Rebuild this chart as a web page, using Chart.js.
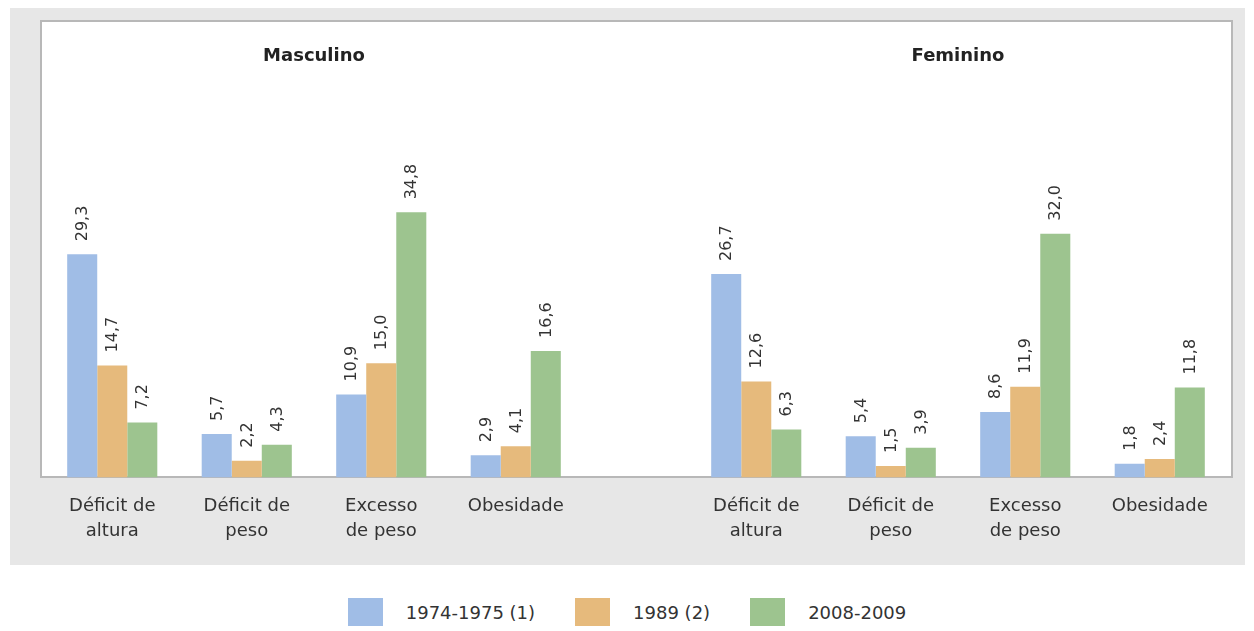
<!DOCTYPE html>
<html>
<head>
<meta charset="utf-8">
<script src="https://cdn.jsdelivr.net/npm/chart.js@4"></script>
<style>
    body { margin: 0; background: #fff; font-family: "DejaVu Sans", sans-serif; }
    #bg { position: absolute; left: 10px; top: 8px; width: 1235px; height: 557px; background: #e7e7e7; }
    #plot { position: absolute; left: 40px; top: 20px; width: 1193px; height: 458px; background: #fff;
            border: 2px solid #b8b8b8; box-sizing: border-box; }
    .wrap { position: absolute; top: 20px; width: 596px; height: 540px; }
    #legend { position: absolute; top: 598px; left: 0; width: 1254px; display: flex; justify-content: center;
              font-size: 18px; color: #333; }
    .item { display: flex; align-items: center; margin: 0 20px; }
    .box { width: 35px; height: 28px; margin-right: 23px; }
</style>
</head>
<body>
<div id="bg"></div>
<div id="plot"></div>
<div class="wrap" style="left:40px"><canvas id="masc"></canvas></div>
<div class="wrap" style="left:636px"><canvas id="fem"></canvas></div>
<div id="legend"></div>
<script>
const categories = [['Déficit de', 'altura'], ['Déficit de', 'peso'], ['Excesso', 'de peso'], 'Obesidade'];
const seriesNames = ['1974-1975 (1)', '1989 (2)', '2008-2009'];
const colors = ['#a0bde6', '#e6ba7c', '#9dc48f'];

const masc1974 = [29.3, 5.7, 10.9, 2.9];
const masc1989 = [14.7, 2.2, 15.0, 4.1];
const masc2008 = [7.2, 4.3, 34.8, 16.6];

const fem1974 = [26.7, 5.4, 8.6, 1.8];
const fem1989 = [12.6, 1.5, 11.9, 2.4];
const fem2008 = [6.3, 3.9, 32.0, 11.8];

const font = "'DejaVu Sans', sans-serif";

const valueLabels = {
    id: 'valueLabels',
    afterDatasetsDraw(chart) {
        let ctx = chart.ctx;
        ctx.save();
        ctx.font = '16px ' + font;
        ctx.fillStyle = '#333';
        ctx.textAlign = 'left';
        ctx.textBaseline = 'middle';
        chart.data.datasets.forEach((ds, i) => {
            chart.getDatasetMeta(i).data.forEach((bar, j) => {
                let txt = ds.data[j].toFixed(1).replace('.', ',');
                ctx.save();
                ctx.translate(bar.x, bar.y - 13);
                ctx.rotate(-Math.PI / 2);
                ctx.fillText(txt, 0, 1);
                ctx.restore();
            });
        });
        ctx.restore();
    }
};

function makeChart(id, title, values, pad) {
    return new Chart(document.getElementById(id), {
        type: 'bar',
        data: {
            labels: categories,
            datasets: values.map((v, i) => ({
                label: seriesNames[i],
                data: v,
                backgroundColor: colors[i]
            }))
        },
        options: {
            responsive: true,
            maintainAspectRatio: false,
            animation: false,
            layout: { padding: pad },
            categoryPercentage: 0.67,
            barPercentage: 1,
            plugins: {
                legend: { display: false },
                tooltip: { enabled: false },
                title: {
                    display: true,
                    text: title,
                    color: '#222',
                    font: { family: font, size: 18, weight: 'bold' },
                    padding: { top: 26, bottom: 29 }
                }
            },
            scales: {
                x: {
                    grid: { display: false },
                    border: { display: false },
                    ticks: {
                        color: '#333',
                        padding: 9,
                        maxRotation: 0,
                        font: { family: font, size: 18, lineHeight: 1.35 }
                    }
                },
                y: { display: false, min: 0, max: 50 }
            }
        },
        plugins: [valueLabels]
    });
}

makeChart('masc', 'Masculino', [masc1974, masc1989, masc2008], { left: 5, right: 53, top: 0, bottom: 8 });
makeChart('fem', 'Feminino', [fem1974, fem1989, fem2008], { left: 53, right: 5, top: 0, bottom: 8 });

let legend = document.getElementById('legend');
seriesNames.forEach((name, i) => {
    let item = document.createElement('div');
    item.className = 'item';
    item.innerHTML = '<div class="box" style="background:' + colors[i] + '"></div><span>' + name + '</span>';
    legend.appendChild(item);
});
</script>
</body>
</html>
